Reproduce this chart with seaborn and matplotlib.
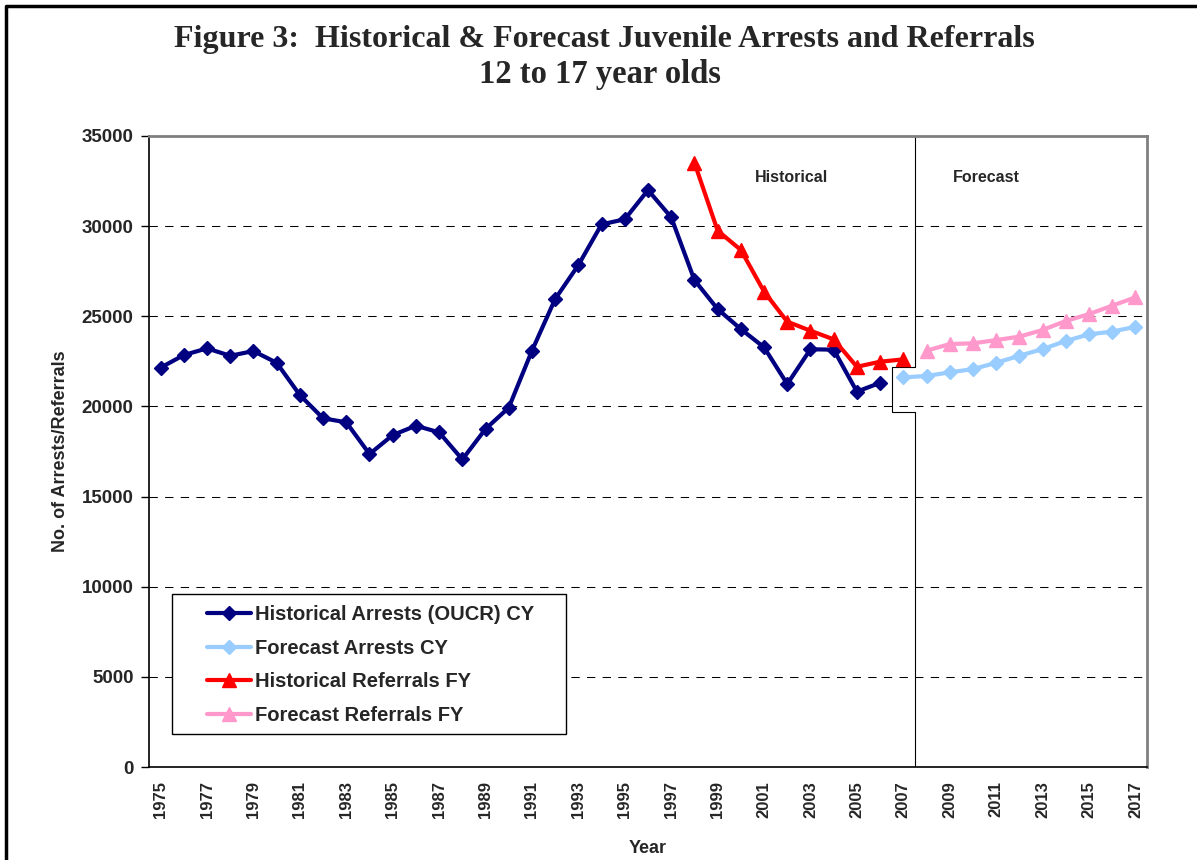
import matplotlib
matplotlib.use("Agg")
import matplotlib.pyplot as plt
import seaborn as sns
import pandas as pd
from matplotlib.lines import Line2D
from matplotlib.patches import Rectangle

# ---- data ----
hist_arrest_years = list(range(1975, 2007))
hist_arrests = [22150, 22850, 23220, 22810, 23070, 22420, 20630, 19340, 19120, 17360,
                18410, 18930, 18560, 17060, 18750, 19930, 23090, 25960, 27840, 30100,
                30380, 32000, 30490, 27010, 25400, 24290, 23280, 21240, 23170, 23150,
                20820, 21310]

fc_arrest_years = list(range(2007, 2018))
fc_arrests = [21610, 21690, 21890, 22070, 22420, 22810, 23180, 23630, 24000, 24150, 24420]

hist_ref_years = list(range(1998, 2008))
hist_referrals = [33520, 29750, 28680, 26370, 24700, 24200, 23720, 22200, 22480, 22610]

fc_ref_years = list(range(2008, 2018))
fc_referrals = [23090, 23460, 23500, 23680, 23870, 24240, 24740, 25120, 25590, 26050]

series_names = ["Historical Arrests (OUCR) CY", "Forecast Arrests CY",
                "Historical Referrals FY", "Forecast Referrals FY"]
series_colors = ["#000080", "#99CCFF", "#FF0000", "#FF99CC"]
series_markers = ["D", "D", "^", "^"]

tick_years = list(range(1975, 2018, 2))
y_ticks = list(range(0, 35001, 5000))

# boundary between historical and forecast, with the little bracket
split_year = 2007.5
bracket_left = 2006.5
bracket_top, bracket_bottom = 22200, 19700

sns.set_style("white")
plt.rcParams["font.family"] = ["Liberation Sans", "DejaVu Sans"]

fig = plt.figure(figsize=(11.97, 8.6), dpi=100)
ax = fig.add_axes([149 / 1197, 1 - 767 / 860, 998 / 1197, 631 / 860])

all_series = [(hist_arrest_years, hist_arrests), (fc_arrest_years, fc_arrests),
              (hist_ref_years, hist_referrals), (fc_ref_years, fc_referrals)]

for (yrs, vals), name, col, mk in zip(all_series, series_names, series_colors, series_markers):
    df = pd.DataFrame({"year": yrs, "value": vals})
    ms = 7.5 if mk == "D" else 10
    sns.lineplot(data=df, x="year", y="value", ax=ax, color=col, marker=mk,
                 markersize=ms, markeredgecolor=col, markeredgewidth=1,
                 linewidth=3, label=name, zorder=3)

# divider line with bracket
ax.plot([split_year, split_year, bracket_left, bracket_left, split_year, split_year],
        [35000, bracket_top, bracket_top, bracket_bottom, bracket_bottom, 0],
        color="black", lw=0.8, zorder=2)

ax.set_xlim(1974.5, 2017.5)
ax.set_ylim(0, 35000)

ax.set_xticks(tick_years)
ax.set_xticklabels([str(y) for y in tick_years], rotation=90, fontsize=12, fontweight="bold")
ax.set_xticks([y + 0.5 for y in range(1974, 2018)], minor=True)
ax.tick_params(axis="x", which="major", length=0, pad=10)
ax.tick_params(axis="x", which="minor", length=7, width=1, color="black", direction="out")

ax.set_yticks(y_ticks)
ax.set_yticklabels([str(v) for v in y_ticks], fontsize=13.5, fontweight="bold")
ax.tick_params(axis="y", length=6, width=1, color="black", direction="out", pad=5, left=True)

ax.yaxis.grid(True, color="black", linestyle=(0, (8, 7)), linewidth=0.75)
ax.xaxis.grid(False)

for side in ["left", "bottom"]:
    ax.spines[side].set_color("black")
    ax.spines[side].set_linewidth(1.2)
for side in ["top", "right"]:
    ax.spines[side].set_color("#808080")
    ax.spines[side].set_linewidth(2)

ax.set_xlabel("Year", fontsize=13, fontweight="bold")
ax.xaxis.set_label_coords(0.5, -0.115)
ax.set_ylabel("No. of Arrests/Referrals", fontsize=13, fontweight="bold")
ax.yaxis.set_label_coords(-0.08, 0.5)

ax.text(0.644, 0.935, "Historical", transform=ax.transAxes, ha="center", va="center",
        fontsize=11.5, fontweight="bold")
ax.text(0.839, 0.935, "Forecast", transform=ax.transAxes, ha="center", va="center",
        fontsize=11.5, fontweight="bold")

# legend: frameless entries inside a plain white rectangle
handles, labels = ax.get_legend_handles_labels()
leg = ax.legend(handles, labels, loc="upper left", bbox_to_anchor=(0.058, 0.256),
                frameon=False, borderpad=0, borderaxespad=0, handlelength=2.2,
                handletextpad=0.2, labelspacing=0.72, numpoints=1,
                prop={"weight": "bold", "size": 14.5})
leg.set_zorder(6)
ax.add_patch(Rectangle((0.023, 0.052), 0.395, 0.222, transform=ax.transAxes,
                       facecolor="white", edgecolor="black", lw=1, zorder=5))

fig.text(0.505, 1 - 39 / 860, "Figure 3:  Historical & Forecast Juvenile Arrests and Referrals",
         ha="center", va="center", family="Liberation Serif", fontweight="bold", fontsize=23)
fig.text(0.501, 1 - 74 / 860, "12 to 17 year olds",
         ha="center", va="center", family="Liberation Serif", fontweight="bold", fontsize=23.5)

# outer frame (top and left edges visible in the reference)
fig.add_artist(Line2D([0.0046, 0.0046, 1.0], [0.0, 0.9936, 0.9936],
                      transform=fig.transFigure, color="black", lw=2.5))

fig.savefig("out.png", dpi=100)
